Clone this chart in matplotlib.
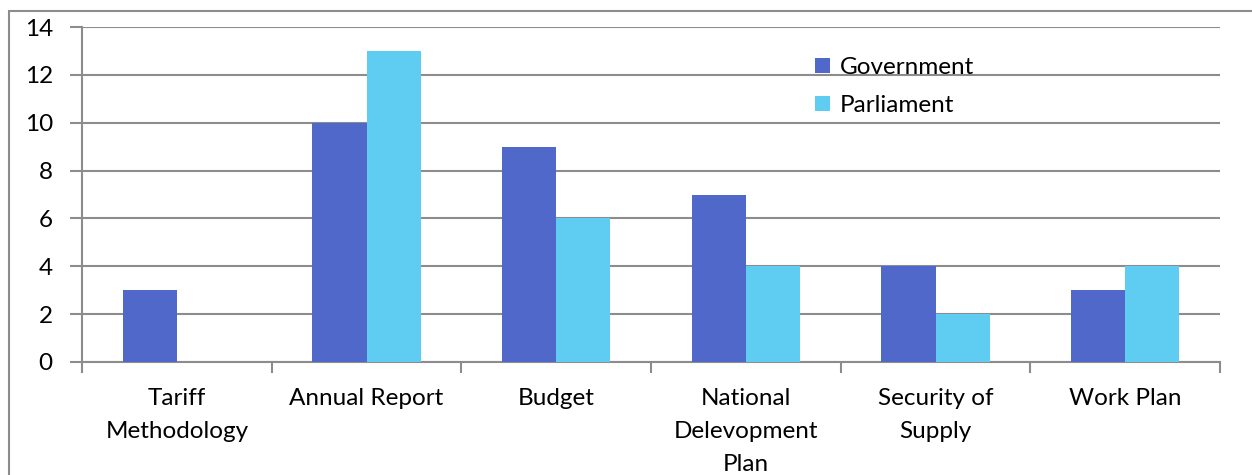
import numpy as np
import matplotlib.pyplot as plt
from matplotlib.patches import Rectangle

# Chart data
categories = ['Tariff\nMethodology', 'Annual Report', 'Budget',
              'National\nDelevopment\nPlan', 'Security of\nSupply', 'Work Plan']
government = [3, 10, 9, 7, 4, 3]
parliament = [0, 13, 6, 4, 2, 4]

gov_color = '#4F68C9'
parl_color = '#5FCDF1'
grid_color = '#8C8C8C'

plt.rcParams['font.family'] = ['Lato', 'DejaVu Sans']

fig = plt.figure(figsize=(12.52, 4.75), dpi=100)
ax = fig.add_axes([82 / 1252, 1 - 362 / 475, (1220 - 82) / 1252, (362 - 27) / 475])

x = np.arange(len(categories))
w = 0.285
ax.bar(x - w / 2, government, w, color=gov_color, label='Government', zorder=3)
ax.bar(x + w / 2, parliament, w, color=parl_color, label='Parliament', zorder=3)

ax.set_xlim(-0.5, len(categories) - 0.5)
ax.set_ylim(0, 14)
ax.set_yticks(range(0, 15, 2))
ax.yaxis.grid(True, color=grid_color, linewidth=1.5, zorder=0)

ax.set_xticks(x)
ax.set_xticklabels(categories, fontsize=17.5, linespacing=1.7)
ax.set_xticks(np.arange(-0.5, len(categories)), minor=True)
ax.tick_params(axis='x', which='major', length=0, pad=19)
ax.tick_params(axis='x', which='minor', length=8, width=1.5, color=grid_color)
ax.tick_params(axis='y', length=9, width=1.5, color=grid_color, labelsize=17.5, pad=12)

for s in ['top', 'right']:
    ax.spines[s].set_visible(False)
for s in ['left', 'bottom']:
    ax.spines[s].set_color(grid_color)
    ax.spines[s].set_linewidth(1.5)

ax.legend(loc='upper left', bbox_to_anchor=(0.625, 0.975), frameon=False, fontsize=17.5,
          handlelength=0.6, handleheight=0.6, handletextpad=0.4, labelspacing=0.7)

# outer chart border (right and bottom edges fall outside the image)
fig.patches.append(Rectangle((9 / 1252, -0.1), 1.2, 0.1 + (475 - 11) / 475,
                             transform=fig.transFigure, fill=False,
                             edgecolor=grid_color, linewidth=1.5))

fig.savefig('out.png', dpi=100)
